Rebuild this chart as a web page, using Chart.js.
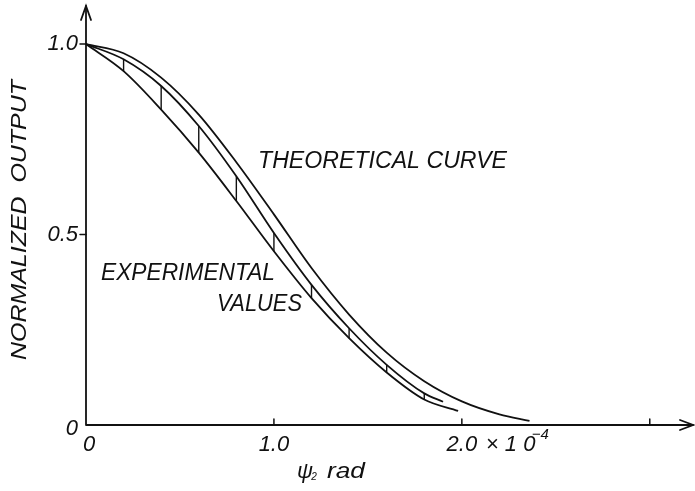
<!DOCTYPE html>
<html>
<head>
<meta charset="utf-8">
<script src="https://cdn.jsdelivr.net/npm/chart.js@4/dist/chart.umd.min.js"></script>
<style>
  html, body { margin: 0; padding: 0; background: #fff; }
  #wrap { width: 695px; height: 491px; position: relative; }
</style>
</head>
<body>
<div id="wrap"><canvas id="c"></canvas></div>
<script>
// psi2 in units of 1e-4 rad, normalized output 0..1
const theoryX = [0, 0.2, 0.4, 0.6, 0.8, 1.0, 1.2, 1.4, 1.6, 1.8, 2.0, 2.2, 2.36];
const theoryY = [1.0, 0.976, 0.912, 0.815, 0.69, 0.553, 0.412, 0.29, 0.19, 0.115, 0.062, 0.028, 0.011];

const expHighX = [0, 0.2, 0.4, 0.6, 0.8, 1.0, 1.2, 1.4, 1.6, 1.8, 1.9];
const expHighY = [1.0, 0.96, 0.89, 0.785, 0.653, 0.504, 0.368, 0.254, 0.158, 0.083, 0.061];

const expLowX = [0, 0.2, 0.4, 0.6, 0.8, 1.0, 1.2, 1.4, 1.6, 1.8, 1.98];
const expLowY = [1.0, 0.929, 0.828, 0.715, 0.588, 0.456, 0.333, 0.228, 0.138, 0.067, 0.037];

// positions where the measured spread is hatched
const hatchX = [0.2, 0.4, 0.6, 0.8, 1.0, 1.2, 1.4, 1.6, 1.8];

const xTickValues = [0, 1.0, 2.0, 3.0];
const xTickLabels = ["0", "1.0", "2.0", ""];
const yTickValues = [0, 0.5, 1.0];
const yTickLabels = ["0", "0.5", "1.0"];

const INK = "#111";
const FONT = '"Liberation Sans", "DejaVu Sans", sans-serif';

function pts(xs, ys) { return xs.map((x, i) => ({ x: x, y: ys[i] })); }
function valueAt(xs, ys, x) { return ys[xs.indexOf(x)]; }

const curveStyle = {
  borderColor: INK, borderWidth: 1.8, pointRadius: 0, fill: false,
  cubicInterpolationMode: "monotone", clip: false
};

const datasets = [
  Object.assign({ label: "THEORETICAL CURVE", data: pts(theoryX, theoryY) }, curveStyle),
  Object.assign({ label: "EXPERIMENTAL (upper)", data: pts(expHighX, expHighY) }, curveStyle),
  Object.assign({ label: "EXPERIMENTAL (lower)", data: pts(expLowX, expLowY) }, curveStyle)
];
hatchX.forEach(x => {
  datasets.push({
    label: "hatch", data: [{ x: x, y: valueAt(expLowX, expLowY, x) }, { x: x, y: valueAt(expHighX, expHighY, x) }],
    borderColor: INK, borderWidth: 1.4, pointRadius: 0, fill: false, tension: 0, clip: false
  });
});

// slanted lettering; optional width makes the word span exactly that many pixels
function italicText(ctx, text, x, y, size, opts) {
  opts = opts || {};
  ctx.save();
  ctx.font = "italic " + size + "px " + FONT;
  ctx.fillStyle = INK;
  ctx.textAlign = opts.align || "center";
  ctx.textBaseline = "middle";
  ctx.translate(x, y);
  if (opts.rotate) ctx.rotate(opts.rotate);
  if (opts.width) {
    const w = ctx.measureText(text).width;
    ctx.scale(opts.width / w, 1);
  }
  ctx.fillText(text, 0, 0);
  ctx.restore();
}

const axesPlugin = {
  id: "handAxes",
  afterDatasetsDraw(chart) {
    const ctx = chart.ctx;
    const xs = chart.scales.x, ys = chart.scales.y;
    const x0 = xs.getPixelForValue(0), y0 = ys.getPixelForValue(0);
    const xEnd = chart.chartArea.right, yEnd = chart.chartArea.top;

    ctx.save();
    ctx.strokeStyle = INK;
    ctx.lineWidth = 1.8;
    ctx.lineCap = "round";
    // axis lines
    ctx.beginPath();
    ctx.moveTo(x0, y0); ctx.lineTo(xEnd, y0);
    ctx.moveTo(x0, y0); ctx.lineTo(x0, yEnd);
    ctx.stroke();
    // arrow heads
    ctx.beginPath();
    ctx.moveTo(xEnd - 13, y0 - 5); ctx.lineTo(xEnd, y0); ctx.lineTo(xEnd - 13, y0 + 5);
    ctx.moveTo(x0 - 5, yEnd + 14); ctx.lineTo(x0, yEnd); ctx.lineTo(x0 + 5, yEnd + 14);
    ctx.stroke();
    // tick marks
    ctx.lineWidth = 1.5;
    ctx.beginPath();
    xTickValues.forEach(v => {
      if (v === 0) return;
      const px = xs.getPixelForValue(v);
      ctx.moveTo(px, y0); ctx.lineTo(px, y0 - 6);
    });
    yTickValues.forEach(v => {
      if (v === 0) return;
      const py = ys.getPixelForValue(v);
      ctx.moveTo(x0, py); ctx.lineTo(x0 - 6, py);
    });
    ctx.stroke();
    ctx.restore();

    // tick labels
    xTickValues.forEach((v, i) => {
      if (!xTickLabels[i]) return;
      italicText(ctx, xTickLabels[i], xs.getPixelForValue(v) + (v === 0 ? 3 : 0), y0 + 20, 22, {});
    });
    // multiplier on the 2.0 label
    const p2 = xs.getPixelForValue(2.0);
    italicText(ctx, "× 1 0", p2 + 24, y0 + 20, 22, { align: "left" });
    italicText(ctx, "−4", p2 + 70, y0 + 10, 15, { align: "left" });

    yTickValues.forEach((v, i) => {
      const py = ys.getPixelForValue(v);
      italicText(ctx, yTickLabels[i], x0 - 8, py + (v === 0 ? 4 : 0), 22, { align: "right" });
    });

    // axis titles
    italicText(ctx, "NORMALIZED  OUTPUT", 20, 220, 22, { rotate: -Math.PI / 2, width: 280 });
    const p1 = xs.getPixelForValue(1.0);
    italicText(ctx, "ψ", p1 + 31, y0 + 47, 22, {});
    italicText(ctx, "2", p1 + 40, y0 + 52, 10, {});
    italicText(ctx, "rad", p1 + 72, y0 + 47, 22, { width: 38 });

    // curve annotations
    italicText(ctx, "THEORETICAL CURVE", 258, 162, 23, { align: "left", width: 249 });
    italicText(ctx, "EXPERIMENTAL", 101, 274, 23, { align: "left", width: 174 });
    italicText(ctx, "VALUES", 217, 305, 23, { align: "left", width: 85 });
  }
};

new Chart(document.getElementById("c"), {
  type: "line",
  data: { datasets: datasets },
  options: {
    responsive: true,
    maintainAspectRatio: false,
    animation: false,
    events: [],
    layout: { padding: { left: 86, right: 2, top: 6, bottom: 66 } },
    plugins: { legend: { display: false }, tooltip: { enabled: false } },
    scales: {
      x: { type: "linear", min: 0, max: 3.23, display: false },
      y: { type: "linear", min: 0, max: 1.1, display: false }
    }
  },
  plugins: [axesPlugin]
});
</script>
</body>
</html>
